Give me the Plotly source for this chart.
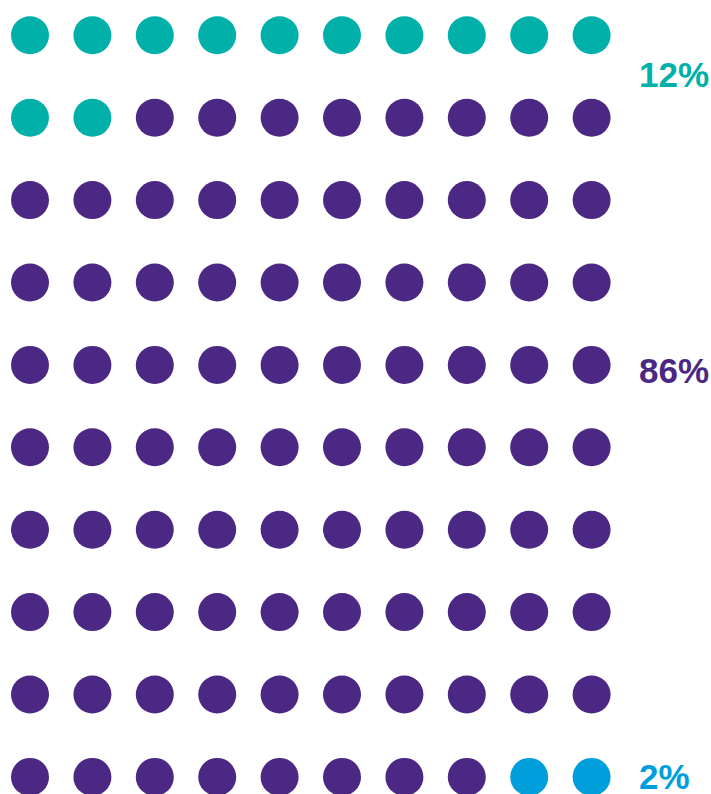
import plotly.graph_objects as go

# Data
categories = ["12%", "86%", "2%"]
values = [12, 86, 2]
colors = ["#00B0A9", "#4B2883", "#009FDC"]
label_rows = [0.48, 4.07, 9]

ncols, nrows = 10, 10

fig = go.Figure()
idx = 0
for cat, val, col in zip(categories, values, colors):
    xs, ys = [], []
    for k in range(val):
        r, c = divmod(idx, ncols)
        xs.append(c)
        ys.append(r)
        idx += 1
    fig.add_trace(go.Scatter(
        x=xs, y=ys, mode="markers", name=cat,
        marker=dict(size=38, color=col, line=dict(width=0)),
        hoverinfo="skip", showlegend=False, cliponaxis=False,
    ))

W, H = 711, 794
x0, dx = 30.0, 62.4
y0, dy = 35.3, 82.4

for cat, row, col in zip(categories, label_rows, colors):
    fig.add_annotation(
        x=(637 - x0) / dx, y=row, xref="x", yref="y", text=f"<b>{cat}</b>",
        showarrow=False, xanchor="left", yanchor="middle",
        font=dict(family="Liberation Sans, Arial, sans-serif", size=35, color=col),
    )

fig.update_layout(
    width=W, height=H,
    margin=dict(l=0, r=0, t=0, b=0),
    paper_bgcolor="white", plot_bgcolor="white",
    xaxis=dict(range=[-x0 / dx, (W - x0) / dx], visible=False, fixedrange=True),
    yaxis=dict(range=[(H - y0) / dy, -y0 / dy], visible=False, fixedrange=True),
)
fig.write_html(
    "out.html",
    config={"displayModeBar": False},
    post_script="document.body.style.margin='0';document.body.style.overflow='hidden';",
)
